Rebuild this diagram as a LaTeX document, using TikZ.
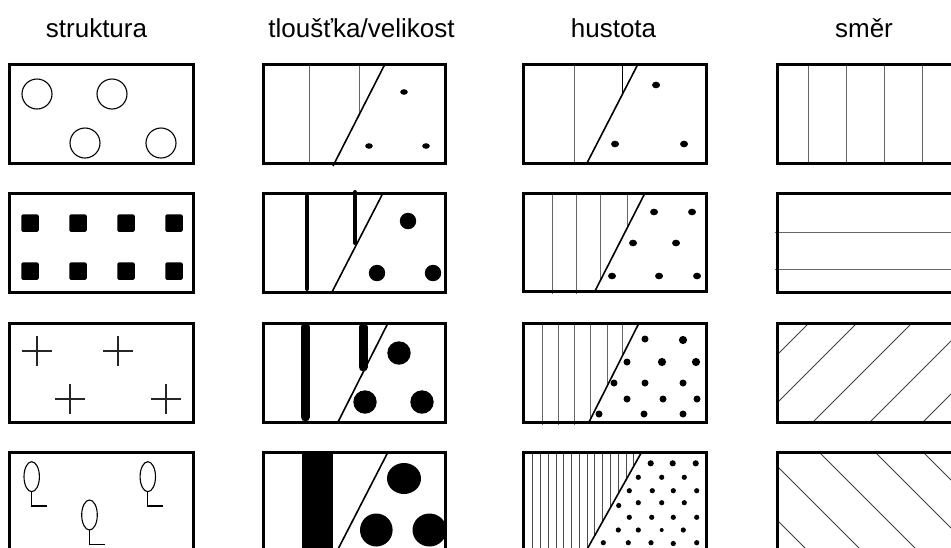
\documentclass[tikz,border=0pt]{standalone}
\usepackage{fontspec}
\setmainfont{Liberation Sans}
\begin{document}
\begin{tikzpicture}[x=1pt,y=-1pt,
  frame/.style={line width=3pt},
  hatch/.style={line width=1pt, black!60},
  slash/.style={line width=1.6pt},
  outline/.style={line width=1.1pt},
  title/.style={anchor=base, font=\fontsize{26}{30}\selectfont, inner sep=0pt}]
\useasboundingbox (0,0) rectangle (951,547);
\clip (0,0) rectangle (951,547);

% titles
\node[title] (t1) at (96.5,37) {struktura};
\node[title] (t2) at (361.5,37) {tloušťka/velikost};
\node[title] (t3) at (613.5,37) {hustota};
\node[title] (t4) at (864,37) {směr};

% ================= column 1: struktura =================
% row 1: circles
\foreach \p in {(37,94),(112,94),(85,143),(161,143)}
  \draw[outline] \p circle[radius=15];
\draw[frame] (9,64) rectangle (193,163);
% row 2: squares
\foreach \x in {30,78,126,174}
  \foreach \y in {223,271}
    \fill[rounded corners=1.5pt] (\x-8.75,\y-8.75) rectangle (\x+8.75,\y+8.75);
\draw[frame] (9,193) rectangle (193,292);
% row 3: crosses
\foreach \p in {(37,351),(118,351),(70,399),(166,399)}
  \draw[outline, black!85] \p ++(-15,0) -- ++(30,0) \p ++(0,-15) -- ++(0,30);
\draw[frame] (9,323) rectangle (193,422);
% row 4: ellipses with stems
\draw[outline] (31.7,476.7) ellipse[x radius=7.7, y radius=15];
\draw[outline] (31.7,491.7) -- (31.7,506) -- (47.3,506);
\draw[outline] (147.8,476.7) ellipse[x radius=7.7, y radius=15];
\draw[outline] (147.8,491.7) -- (147.8,506) -- (163.3,506);
\draw[outline] (89.5,515) ellipse[x radius=7.8, y radius=15];
\draw[outline] (89.5,530) -- (89.5,544.3) -- (105.3,544.3);
\draw[frame] (9,452) rectangle (193,570);

% ================= column 2: tloustka/velikost =================
% row 1
\begin{scope}
  \clip (263,64) -- (385,64) -- (333,165) -- (263,165) -- cycle;
  \draw[hatch] (309,64) -- (309,163);
  \draw[hatch] (359,64) -- (359,163);
\end{scope}
\draw[slash] (385,64) -- (333,166);
\foreach \p in {(404,92),(369,146),(426,146)}
  \fill \p ellipse[x radius=3.8, y radius=2.8];
\draw[frame] (263,64) rectangle (445,163);
% row 2
\draw[line width=4pt, line cap=round] (307,196) -- (307,289);
\draw[line width=4pt, line cap=round] (355,192) -- (355,243);
\draw[slash] (383,193) -- (332,292);
\foreach \p in {(408,221),(377,273),(433,273)}
  \fill \p circle[radius=8.2];
\draw[frame] (263,193) rectangle (445,292);
% row 3
\draw[line width=9pt, line cap=round] (305,327) -- (305,417);
\draw[line width=9pt, line cap=round] (363,327) -- (363,367);
\draw[slash] (388,323) -- (338,422);
\foreach \p in {(399,353),(365,402),(422,402)}
  \fill \p circle[radius=11.7];
\draw[frame] (263,323) rectangle (445,422);
% row 4
\fill (302,452) rectangle (333,570);
\draw[slash] (388,452) -- (335,555);
\fill (404,478.5) ellipse[x radius=17, y radius=15.5];
\fill (376.3,530) ellipse[x radius=16.3, y radius=16.5];
\fill (429.5,530) ellipse[x radius=17, y radius=16.5];
\draw[frame] (263,452) rectangle (445,570);

% ================= column 3: hustota =================
% row 1
\begin{scope}
  \clip (523,60) -- (638,64) -- (587,163) -- (587,166) -- (523,166) -- cycle;
  \draw[hatch] (574,64) -- (574,165);
  \draw[hatch, black] (622,64) -- (622,163);
\end{scope}
\draw[slash] (638,64) -- (587,163);
\foreach \p in {(656,85),(615,144),(684,144)}
  \fill \p ellipse[x radius=4, y radius=3.3];
\draw[frame] (523,64) rectangle (706,163);
% row 2
\begin{scope}
  \clip (523,190) -- (645,193) -- (595,291) -- (595,294) -- (523,294) -- cycle;
  \foreach \x in {552,576,600,627}
    \draw[hatch] (\x,193) -- (\x,294);
\end{scope}
\draw[slash] (645,193) -- (595,291);
\foreach \p in {(654,212),(692,212),(633,243),(676,243),(612,276),(659,276),(697,276)}
  \fill \p ellipse[x radius=4, y radius=3.3];
\draw[frame] (523,193) rectangle (706,291);
% row 3
\begin{scope}
  \clip (523,320) -- (639,323) -- (589,422) -- (589,425) -- (523,425) -- cycle;
  \foreach \x in {542,558,574,590,607,622}
    \draw[hatch] (\x,323) -- (\x,425);
\end{scope}
\draw[slash] (639,323) -- (589,422);
\foreach \p in {(645,339),(627,362),(614,383),(645,383),(683,383),(627,399),(663,399),(697,399),(599,414),(644,414),(683,414)}
  \fill \p circle[radius=3.5];
\foreach \p in {(683,340),(662,362),(696,362)}
  \fill \p circle[radius=4.1];
\draw[frame] (523,323) rectangle (706,422);
% row 4
\begin{scope}
  \clip (523,452) -- (641.7,452) -- (581,560) -- (523,560) -- cycle;
  \foreach \k in {0,...,14}
    \draw[line width=0.9pt, black!70] ({532.7+7.78*\k},452) -- ({532.7+7.78*\k},560);
\end{scope}
\draw[slash] (641.7,452) -- (581,560);
\foreach \p in {(650.7,463.3),(672.7,463.3),(695.7,463.3)}
  \fill \p circle[radius=3.1];
\foreach \p in {(638.3,477.3),(661.7,477.3),(684.3,477.3),
                (629.3,490.7),(652.3,490.7),(673.3,490.7),(696.7,490.7),
                (618.7,505.5),(638.3,502.7),(661.7,502.7),(684.3,502.7),
                (629.3,517.3),(651.7,517.3),(673.3,517.3),(696.7,517.3),
                (618.3,530),(638.3,530),(683.3,530),
                (603.3,542.7),(628.3,542.7),(651,542.7),(673.3,543.5),(696.7,542.7)}
  \fill \p circle[radius=2.6];
\fill (661.7,530) circle[radius=2];
\draw[frame] (523,452) rectangle (706,570);

% ================= column 4: smer =================
% row 1
\foreach \x in {808,846,884,922}
  \draw[hatch] (\x,64) -- (\x,163);
\draw[frame] (777,64) rectangle (990,163);
% row 2
\draw[hatch] (775,232) -- (990,232);
\draw[hatch] (775,269) -- (990,269);
\draw[frame] (777,193) rectangle (990,292);
% row 3
\begin{scope}
  \clip (777,323) rectangle (990,422);
  \foreach \t in {809,857,912,969,1022}
    \draw[line width=0.9pt, black!75] (\t,323) -- ++(-110,110);
\end{scope}
\draw[frame] (777,323) rectangle (990,422);
% row 4
\begin{scope}
  \clip (777,452) rectangle (990,570);
  \foreach \t in {709,763,819,875,923}
    \draw[line width=0.9pt, black!75] (\t,452) -- ++(120,120);
\end{scope}
\draw[frame] (777,452) rectangle (990,570);
\end{tikzpicture}
\end{document}
